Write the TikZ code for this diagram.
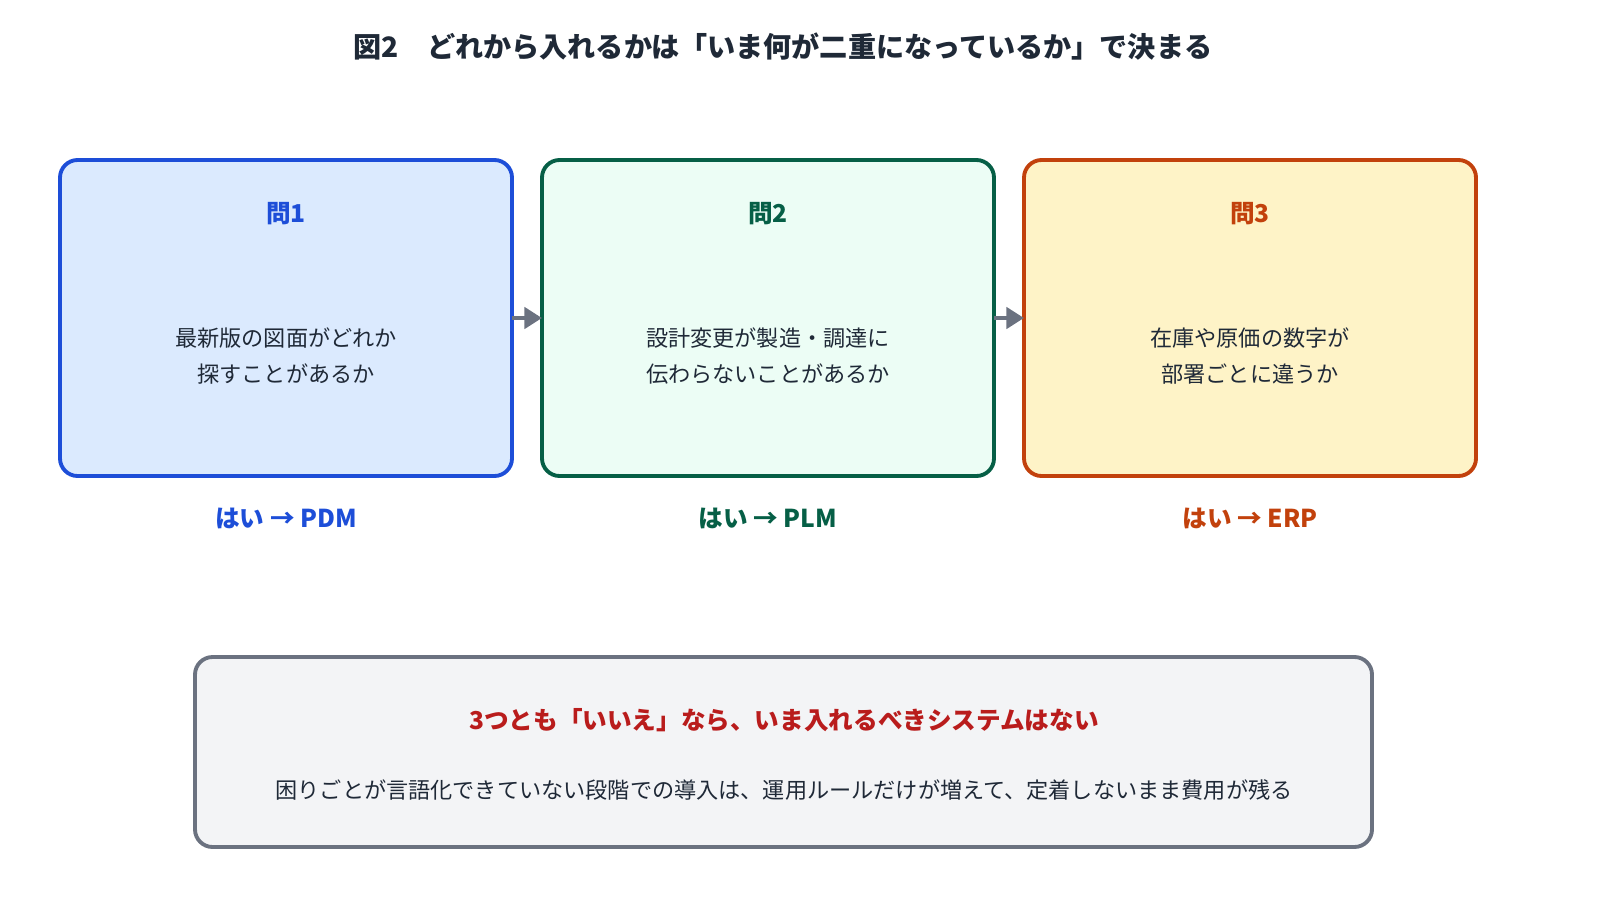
\documentclass[tikz,border=0pt]{standalone}
\usepackage{fontspec}
\setmainfont{Noto Sans CJK JP}
\usetikzlibrary{arrows.meta}
\definecolor{blueB}{HTML}{1D4ED8}\definecolor{blueF}{HTML}{DBEAFE}
\definecolor{greenB}{HTML}{065F46}\definecolor{greenF}{HTML}{ECFDF5}
\definecolor{orangeB}{HTML}{C2410C}\definecolor{orangeF}{HTML}{FEF3C7}
\definecolor{grayB}{HTML}{6B7280}\definecolor{grayF}{HTML}{F3F4F6}
\definecolor{ink}{HTML}{1F2937}\definecolor{warn}{HTML}{B91C1C}
\begin{document}
\begin{tikzpicture}[x=0.01cm,y=-0.01cm]
    \tikzstyle{box}=[draw, line width=1.1pt, rounded corners=5pt]
    \tikzstyle{head}=[font=\fontsize{7}{8}\selectfont\bfseries]
    \tikzstyle{body}=[font=\fontsize{6.3}{10.5}\selectfont, text=ink, align=center]
    \tikzstyle{link}=[draw=grayB, line width=1.2pt, -{Triangle[length=5pt,width=6pt]}]

    \useasboundingbox (0,0) rectangle (1600,912);
    \node[font=\fontsize{8}{9}\selectfont\bfseries, text=ink] (title) at (783,47)
      {図2\quad どれから入れるかは「いま何が二重になっているか」で決まる};

    \draw[box, draw=blueB, fill=blueF] (60,160) rectangle (512,476);
    \draw[box, draw=greenB, fill=greenF] (542,160) rectangle (994,476);
    \draw[box, draw=orangeB, fill=orangeF] (1024,160) rectangle (1476,476);
    \coordinate (q1r) at (512,318); \coordinate (q2l) at (542,318);
    \coordinate (q2r) at (994,318); \coordinate (q3l) at (1024,318);

    \node[head, text=blueB] (h1) at (286,214) {問1};
    \node[head, text=greenB] (h2) at (768,214) {問2};
    \node[head, text=orangeB] (h3) at (1250,214) {問3};
    \node[body] (t1) at (286,356) {最新版の図面がどれか\\探すことがあるか};
    \node[body] (t2) at (768,356) {設計変更が製造・調達に\\伝わらないことがあるか};
    \node[body] (t3) at (1250,356) {在庫や原価の数字が\\部署ごとに違うか};
    \node[head, text=blueB] (a1) at (286,518) {はい → PDM};
    \node[head, text=greenB] (a2) at (768,518) {はい → PLM};
    \node[head, text=orangeB] (a3) at (1250,518) {はい → ERP};

    \path[link] (q1r) -- (q2l);
    \path[link] (q2r) -- (q3l);

    \draw[box, draw=grayB, fill=grayF] (195,657) rectangle (1372,847);
    \node[head, text=warn] (no) at (784,720) {3つとも「いいえ」なら、いま入れるべきシステムはない};
    \node[body] (note) at (784,790)
      {困りごとが言語化できていない段階での導入は、運用ルールだけが増えて、定着しないまま費用が残る};
\end{tikzpicture}
\end{document}
